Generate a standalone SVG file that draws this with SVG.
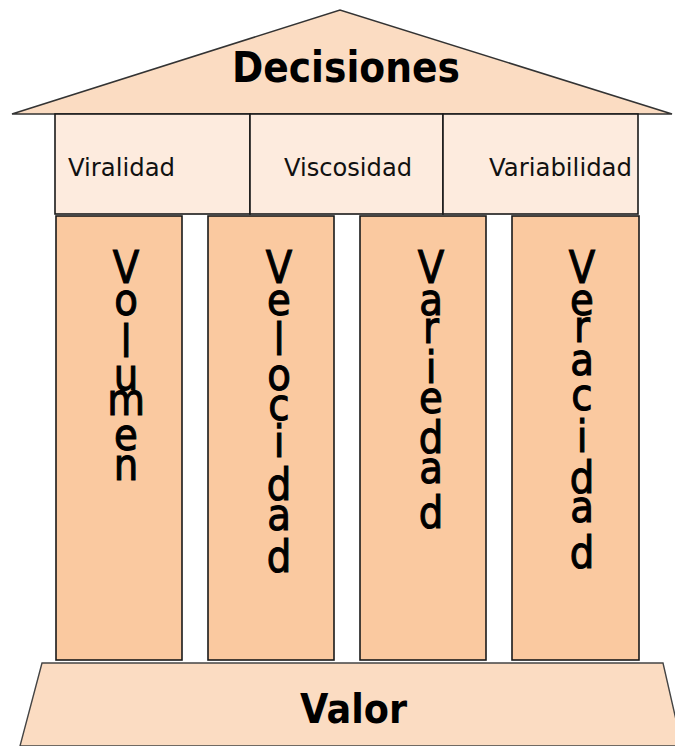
<svg xmlns="http://www.w3.org/2000/svg" width="675" height="746" viewBox="0 0 675 746">
<style>
.outline{stroke:#1a1a1a;stroke-width:1.6}
.roof{fill:#FBDCC2;stroke:#333;stroke-width:1.6}
.cap{fill:#FDEBDE}
.col{fill:#FAC9A0}
.base{fill:#FBDCC2;stroke:#444;stroke-width:1.4}
.big{font-family:"DejaVu Sans",sans-serif;font-weight:bold;fill:#000}
.small{font-family:"DejaVu Sans",sans-serif;font-size:24px;fill:#111}
.vert{font-family:"DejaVu Sans",sans-serif;font-size:44px;fill:#000;stroke:#000;stroke-width:1.1;text-anchor:middle}
</style>
<rect width="675" height="746" fill="#fff"/>
<g id="roof">
<polygon class="roof" points="12,114 340,10 672,114"/>
<text class="big" x="232" y="82" font-size="43" textLength="228" lengthAdjust="spacingAndGlyphs">Decisiones</text>
</g>
<g id="viralidad">
<rect class="cap outline" x="55" y="114" width="195" height="100"/>
<text class="small" x="68" y="176" textLength="107" lengthAdjust="spacingAndGlyphs">Viralidad</text>
</g>
<g id="viscosidad">
<rect class="cap outline" x="250" y="114" width="193" height="100"/>
<text class="small" x="284" y="176" textLength="128" lengthAdjust="spacingAndGlyphs">Viscosidad</text>
</g>
<g id="variabilidad">
<rect class="cap outline" x="443" y="114" width="195" height="100"/>
<text class="small" x="489" y="176" textLength="143" lengthAdjust="spacingAndGlyphs">Variabilidad</text>
</g>
<g id="volumen">
<rect class="col outline" x="56" y="216" width="126" height="444"/>
<text class="vert" transform="translate(126,0) scale(0.88,1)"><tspan x="0" y="283">V</tspan><tspan x="0" y="315">o</tspan><tspan x="0" y="357">l</tspan><tspan x="0" y="390">u</tspan><tspan x="0" y="415">m</tspan><tspan x="0" y="450">e</tspan><tspan x="0" y="480">n</tspan></text>
</g>
<g id="velocidad">
<rect class="col outline" x="208" y="216" width="126" height="444"/>
<text class="vert" transform="translate(279,0) scale(0.88,1)"><tspan x="0" y="283">V</tspan><tspan x="0" y="315">e</tspan><tspan x="0" y="355">l</tspan><tspan x="0" y="390">o</tspan><tspan x="0" y="420">c</tspan><tspan x="0" y="457">i</tspan><tspan x="0" y="500">d</tspan><tspan x="0" y="530">a</tspan><tspan x="0" y="572">d</tspan></text>
</g>
<g id="variedad">
<rect class="col outline" x="360" y="216" width="126" height="444"/>
<text class="vert" transform="translate(431,0) scale(0.88,1)"><tspan x="0" y="283">V</tspan><tspan x="0" y="315">a</tspan><tspan x="0" y="343">r</tspan><tspan x="0" y="383">i</tspan><tspan x="0" y="413">e</tspan><tspan x="0" y="453">d</tspan><tspan x="0" y="483">a</tspan><tspan x="0" y="528">d</tspan></text>
</g>
<g id="veracidad">
<rect class="col outline" x="512" y="216" width="127" height="444"/>
<text class="vert" transform="translate(582,0) scale(0.88,1)"><tspan x="0" y="283">V</tspan><tspan x="0" y="315">e</tspan><tspan x="0" y="342">r</tspan><tspan x="0" y="375">a</tspan><tspan x="0" y="410">c</tspan><tspan x="0" y="452">i</tspan><tspan x="0" y="493">d</tspan><tspan x="0" y="522">a</tspan><tspan x="0" y="568">d</tspan></text>
</g>
<g id="valor">
<polygon class="base" points="42,663 663,663 682,746 20,746"/>
<text class="big" x="300" y="723" font-size="41" textLength="107" lengthAdjust="spacingAndGlyphs">Valor</text>
</g>
<g id="connectors"></g>
</svg>
